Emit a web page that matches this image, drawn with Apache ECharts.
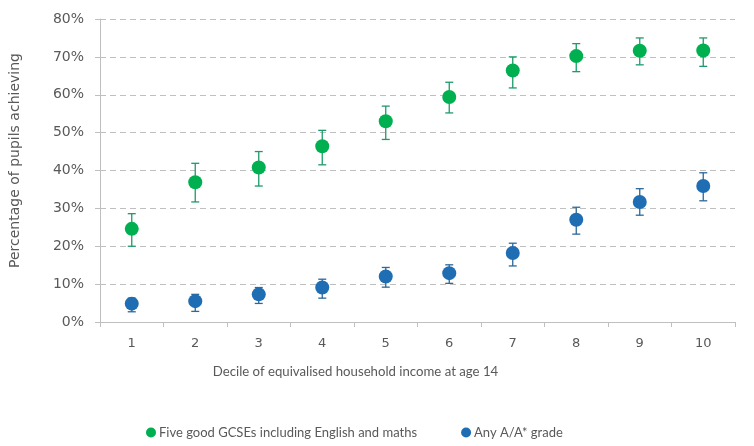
<!DOCTYPE html>
<html>
<head>
<meta charset="utf-8">
<script src="https://cdn.jsdelivr.net/npm/echarts@6/dist/echarts.min.js"></script>
<style>
  html, body { margin: 0; padding: 0; background: #fff; }
  #chart { width: 754px; height: 446px; }
</style>
</head>
<body>
<div id="chart"></div>
<script>
"use strict";

// deciles of household income
var deciles = ['1', '2', '3', '4', '5', '6', '7', '8', '9', '10'];

// Five good GCSEs including English and maths (%)
var gcseValue = [24.6, 36.9, 40.8, 46.4, 53.0, 59.4, 66.4, 70.2, 71.6, 71.7];
var gcseLow   = [20.0, 31.7, 35.9, 41.5, 48.2, 55.2, 61.8, 66.1, 67.9, 67.5];
var gcseHigh  = [28.6, 41.9, 45.0, 50.6, 57.0, 63.3, 70.0, 73.5, 75.0, 75.0];

// Any A/A* grade (%)
var aValue = [4.85, 5.5, 7.3, 9.1, 12.0, 12.9, 18.2, 27.0, 31.7, 35.9];
var aLow   = [2.7, 2.8, 4.9, 6.3, 9.2, 10.2, 14.8, 23.2, 28.2, 32.0];
var aHigh  = [6.3, 7.3, 9.1, 11.3, 14.4, 15.1, 20.8, 30.3, 35.2, 39.4];

var seriesNames = ['Five good GCSEs including English and maths', 'Any A/A* grade'];

var labelColor = '#595959';
var axisGrey = '#BFBFBF';

function errorData(low, high) {
  return deciles.map(function (d, i) { return [i, low[i], high[i]]; });
}

// whisker with caps, drawn through the axis scales
function errorBar(color) {
  return function (params, api) {
    var x = api.value(0);
    var lo = api.coord([x, api.value(1)]);
    var hi = api.coord([x, api.value(2)]);
    var half = 4;
    var style = { stroke: color, lineWidth: 1.3 };
    return {
      type: 'group',
      children: [
        { type: 'line', shape: { x1: lo[0], y1: lo[1], x2: hi[0], y2: hi[1] }, style: style },
        { type: 'line', shape: { x1: hi[0] - half, y1: hi[1], x2: hi[0] + half, y2: hi[1] }, style: style },
        { type: 'line', shape: { x1: lo[0] - half, y1: lo[1], x2: lo[0] + half, y2: lo[1] }, style: style }
      ]
    };
  };
}

var chart = echarts.init(document.getElementById('chart'), null, { renderer: 'canvas' });

var option = {
  animation: false,
  textStyle: { fontFamily: 'DejaVu Sans' },
  grid: { left: 100, right: 19, top: 19, bottom: 124 },
  legend: {
    data: seriesNames,
    left: 141,
    top: 421,
    icon: 'circle',
    itemWidth: 10,
    itemHeight: 10,
    itemGap: 44,
    textStyle: { color: labelColor, fontSize: 13, fontFamily: 'Lato', padding: [0, 0, 0, -2] }
  },
  xAxis: {
    type: 'category',
    data: deciles,
    boundaryGap: true,
    name: 'Decile of equivalised household income at age 14',
    nameLocation: 'middle',
    nameGap: 43,
    nameTextStyle: { color: labelColor, fontSize: 13.2, fontFamily: 'Lato', padding: [0, 124, 0, 0] },
    axisLine: { lineStyle: { color: axisGrey, width: 1 } },
    axisTick: { show: true, length: 5, lineStyle: { color: axisGrey } },
    axisLabel: { color: labelColor, fontSize: 13, margin: 15 },
    splitLine: { show: false }
  },
  yAxis: {
    type: 'value',
    min: 0,
    max: 80,
    interval: 10,
    name: 'Percentage of pupils achieving',
    nameLocation: 'middle',
    nameGap: 78,
    nameTextStyle: { color: labelColor, fontSize: 14, padding: [0, 0, 0, 20] },
    axisLine: { show: true, lineStyle: { color: axisGrey, width: 1 } },
    axisTick: { show: true, length: 5, lineStyle: { color: axisGrey } },
    axisLabel: { color: labelColor, fontSize: 14, margin: 16, formatter: '{value}%' },
    splitLine: { show: true, lineStyle: { color: axisGrey, type: [6, 4], width: 1 } }
  },
  series: [
    {
      name: seriesNames[0] + ' error',
      type: 'custom',
      renderItem: errorBar('#1E9A6A'),
      data: errorData(gcseLow, gcseHigh),
      encode: { x: 0, y: [1, 2] },
      z: 2
    },
    {
      name: seriesNames[1] + ' error',
      type: 'custom',
      renderItem: errorBar('#2C6898'),
      data: errorData(aLow, aHigh),
      encode: { x: 0, y: [1, 2] },
      z: 2
    },
    {
      name: seriesNames[0],
      type: 'scatter',
      data: gcseValue,
      symbol: 'circle',
      symbolSize: 14,
      itemStyle: { color: '#00B050', opacity: 1 },
      z: 3
    },
    {
      name: seriesNames[1],
      type: 'scatter',
      data: aValue,
      symbol: 'circle',
      symbolSize: 14,
      itemStyle: { color: '#1F6DB3', opacity: 1 },
      z: 3
    }
  ]
};

chart.setOption(option);
</script>
</body>
</html>
